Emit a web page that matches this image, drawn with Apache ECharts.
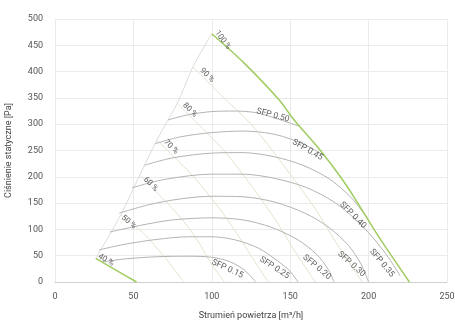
<!DOCTYPE html>
<html lang="pl">
<head>
<meta charset="UTF-8">
<title>Charakterystyka wentylatora</title>
<script src="https://cdn.jsdelivr.net/npm/echarts@6/dist/echarts.min.js"></script>
<style>
html, body { margin: 0; padding: 0; background: #fff; }
#chart { width: 455px; height: 320px; }
</style>
</head>
<body>
<div id="chart"></div>
<script>
// osie
var xMax = 250, yMax = 500, xStep = 50, yStep = 50;

// granica pracy (lewa)
var boundary = [[26,45],[42,128],[54,203],[65,270],[78,340],[88,409],[100,472]];

// krzywe obrotów
var speed100 = [[100,472],[120,418],[143,346],[152,310],[169,251],[182,200],[191,160],[206,88],[226,0]];
var speed90 = [[88,409],[106,355],[125,300],[147,217],[166,139],[179,76],[196,0]];
var speed80 = [[78,340],[94,292],[108,249],[126,180],[141,116],[152,63],[166,0]];
var speed70 = [[65,270],[77,235],[89,198],[104,143],[116,92],[125,50],[136,0]];
var speed60 = [[54,203],[63,176],[72,149],[84,108],[93,69],[99,38],[108,0]];
var speed50 = [[42,128],[49,111],[56,94],[64,68],[71,44],[76,24],[82,0]];
var speed40 = [[26,45],[38,24],[52,0]];

// krzywe SFP
var sfpA = [[30,38],[45,44],[65,48],[85,49],[100,47],[112,38],[121,22],[128,0]];
var sfpB = [[28,61],[45,72],[65,81],[85,86],[100,86],[115,80],[130,64],[142,40],[150,20],[155,0]];
var sfpC = [[35,95],[55,108],[75,118],[100,122],[120,118],[138,104],[155,80],[167,52],[174,25],[178,0]];
var sfpD = [[41,131],[60,147],[80,158],[100,163],[120,162],[140,152],[160,130],[175,103],[187,70],[195,35],[200,0]];
var sfpE = [[49,179],[70,195],[100,205],[120,205],[140,197],[160,180],[178,152],[192,118],[204,80],[213,45],[220,12]];
var sfpF = [[57,222],[75,236],[100,245],[120,246],[140,238],[158,222],[175,196],[189,160],[199,122]];
var sfpG = [[64,263],[80,276],[100,284],[120,287],[138,282],[152,270],[164,254],[173,237]];
var sfpH = [[72,308],[85,318],[100,324],[115,325],[128,322],[140,312],[150,302],[156,296]];

// opisy
var pctNames = ['100 %','90 %','80 %','70 %','60 %','50 %','40 %'];
var pctPos = [[107,460],[97,393],[86,327],[74,257],[61,186],[47,114],[32.5,42]];
var pctRot = [-55,-45,-45,-45,-45,-40,-30];

var sfpNames = ['SFP 0.50','SFP 0.45','SFP 0.40','SFP 0.35','SFP 0.30','SFP 0.20','SFP 0.25','SFP 0.15'];
var sfpPos = [[139,317],[161,251],[190,127],[208.5,36],[189,34],[167,28],[140,27],[110,25]];
var sfpRot = [-15,-30,-45,-50,-42,-40,-33,-25];

var green = '#9fcd5f';
var font = 'Roboto, sans-serif';

function lineSeries(data, color, width) {
	return {
		type: 'line',
		data: data,
		smooth: 0.3,
		symbol: 'none',
		silent: true,
		lineStyle: { color: color, width: width }
	};
}

function labelSeries(names, pos, rot, size) {
	return {
		type: 'scatter',
		symbolSize: 0,
		silent: true,
		z: 5,
		data: names.map(function (n, i) {
			return {
				value: pos[i],
				label: {
					show: true,
					formatter: n,
					rotate: rot[i],
					position: 'inside',
					color: '#333',
					fontSize: size,
					fontFamily: font
				}
			};
		})
	};
}

var series = [
	lineSeries(boundary, '#dcdcdc', 1),
	lineSeries(speed90, '#dfe5cd', 1),
	lineSeries(speed80, '#dfe5cd', 1),
	lineSeries(speed70, '#dfe5cd', 1),
	lineSeries(speed60, '#dfe5cd', 1),
	lineSeries(speed50, '#dfe5cd', 1)
];
[sfpA, sfpB, sfpC, sfpD, sfpE, sfpF, sfpG, sfpH].forEach(function (s) {
	series.push(lineSeries(s, '#b3b3b3', 1));
});
series.push(lineSeries(speed100, green, 1.5));
series.push(lineSeries(speed40, green, 1.5));
series.push(labelSeries(pctNames, pctPos, pctRot, 8));
series.push(labelSeries(sfpNames, sfpPos, sfpRot, 8.5));

var option = {
	animation: false,
	grid: { left: 55, right: 8, top: 19, bottom: 38, outerBoundsMode: 'none', containLabel: false },
	xAxis: {
		type: 'value',
		min: 0, max: xMax, interval: xStep,
		name: 'Strumień powietrza [m³/h]',
		nameLocation: 'middle',
		nameGap: 29,
		nameTextStyle: { color: '#444', fontSize: 9, fontFamily: font },
		axisLine: { lineStyle: { color: '#cfcfcf' } },
		axisTick: { show: false },
		axisLabel: { color: '#555', fontSize: 9, fontFamily: font, margin: 10 },
		splitLine: { lineStyle: { color: '#ebebeb' } }
	},
	yAxis: {
		type: 'value',
		min: 0, max: yMax, interval: yStep,
		name: 'Ciśnienie statyczne [Pa]',
		nameLocation: 'middle',
		nameGap: 42,
		nameTextStyle: { color: '#444', fontSize: 9, fontFamily: font },
		axisLine: { show: false },
		axisTick: { show: false },
		axisLabel: { color: '#555', fontSize: 9, fontFamily: font, margin: 12 },
		splitLine: { lineStyle: { color: '#ebebeb' } }
	},
	series: series
};

var myChart = echarts.init(document.getElementById('chart'));
myChart.setOption(option);
</script>
</body>
</html>
